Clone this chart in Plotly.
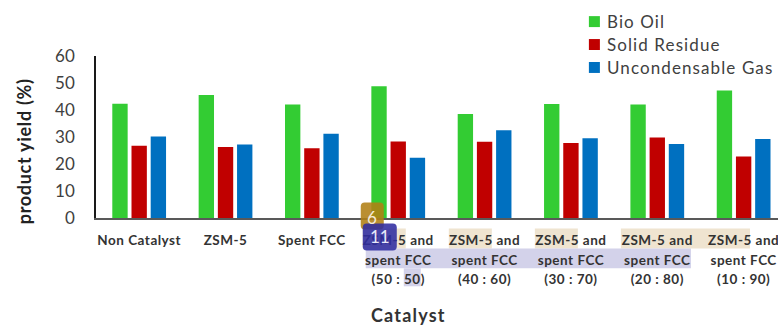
import plotly.graph_objects as go

# Product yields per catalyst
categories = ["Non Catalyst", "ZSM-5", "Spent FCC", "ZSM-5 and<br>spent FCC<br>(50 : 50)",
              "ZSM-5 and<br>spent FCC<br>(40 : 60)", "ZSM-5 and<br>spent FCC<br>(30 : 70)",
              "ZSM-5 and<br>spent FCC<br>(20 : 80)", "ZSM-5 and<br>spent FCC<br>(10 : 90)"]
bio_oil = [42.3, 45.6, 42.0, 48.8, 38.5, 42.2, 42.0, 47.2]
solid_residue = [26.8, 26.3, 25.8, 28.3, 28.2, 27.8, 29.8, 22.8]
uncondensable_gas = [30.2, 27.2, 31.2, 22.3, 32.5, 29.5, 27.4, 29.3]
series_names = ["Bio Oil", "Solid Residue", "Uncondensable Gas"]
series_colors = ["#33CC33", "#C00000", "#0070C0"]
y_ticks = [0, 10, 20, 30, 40, 50, 60]

W, H = 778, 327
L, T, BOTTOM = 96.4, 56.0, 218.5
FONT = "Lato, Carlito, Calibri, sans-serif"
INK = "#404040"


def px(x):
    return (x - L) / (W - L)


def py(y):
    return (BOTTOM - y) / (BOTTOM - T)


def spaced(text, size, spacing, bold=False):
    body = f"<b>{text}</b>" if bold else text
    return f'<span style="font-size:{size}px;letter-spacing:{spacing}px">{body}</span>'


def band(x0, y0, x1, y1, color):
    return dict(type="rect", xref="paper", yref="paper", layer="below", line_width=0,
                fillcolor=color, x0=px(x0), x1=px(x1), y0=py(y1), y1=py(y0))


def badge(x0, y0, x1, y1, color, r=4):
    a, b, c, d = px(x0), px(x1), py(y0), py(y1)
    rx, ry = r / (W - L), r / (BOTTOM - T)
    path = (f"M{a+rx},{c} L{b-rx},{c} Q{b},{c} {b},{c-ry} L{b},{d+ry} Q{b},{d} {b-rx},{d} "
            f"L{a+rx},{d} Q{a},{d} {a},{d+ry} L{a},{c-ry} Q{a},{c} {a+rx},{c} Z")
    return dict(type="path", xref="paper", yref="paper", layer="above", line_width=0,
                fillcolor=color, path=path)


def note(x, y, text, size, color, anchor="center", **kw):
    return dict(xref="paper", yref="paper", x=px(x), y=py(y), text=text,
                showarrow=False, font=dict(family=FONT, size=size, color=color),
                xanchor=anchor, yanchor="middle", **kw)


fig = go.Figure()
for name, values, color in zip(series_names, [bio_oil, solid_residue, uncondensable_gas], series_colors):
    fig.add_trace(go.Bar(name=name, x=list(range(len(categories))), y=values, marker_color=color,
                         marker_line_width=0, showlegend=False))

# Key drawn by hand so the swatches sit close to their labels
key_y = [21.5, 44.5, 67.5]
key_shapes = [dict(type="rect", xref="paper", yref="paper", layer="above", line_width=0, fillcolor=c,
                   x0=px(589), x1=px(600), y0=py(y + 5.5), y1=py(y - 5.5))
              for c, y in zip(series_colors, key_y)]
key_labels = [note(605, y, spaced(n, 17, 1.1), 17, INK, anchor="left")
              for n, y in zip(series_names, key_y)]

fig.update_layout(
    width=W, height=H, autosize=False,
    margin=dict(l=L, r=0, t=T, b=H - BOTTOM, pad=0),
    paper_bgcolor="white", plot_bgcolor="rgba(0,0,0,0)",
    barmode="group", bargap=0.333, bargroupgap=0.2,
    font=dict(family=FONT, color=INK),
    xaxis=dict(range=[-0.5, (W - L) / 86.3 - 0.5], tickmode="array",
               tickvals=list(range(len(categories))),
               ticktext=["<br>".join(spaced(line, 13.5, 0.5, bold=True) for line in c.split("<br>"))
                         for c in categories],
               tickfont=dict(family=FONT, size=15, color="#333333"), tickangle=0,
               ticklabeloverflow="allow",
               showgrid=False, zeroline=False, showline=True, linecolor="#595959", linewidth=2,
               ticks="", ticklabelstandoff=7),
    yaxis=dict(range=[0, 60], tickmode="array", tickvals=y_ticks,
               tickfont=dict(family=FONT, size=17, color=INK),
               showgrid=False, zeroline=False, showline=True, linecolor="#1a1a1a", linewidth=1.5,
               ticks="", ticklabelstandoff=16),
    shapes=[
        band(363, 229, 406, 249, "#EFE4D0"),
        band(449, 229, 492, 249, "#EFE4D0"),
        band(535, 229, 578, 249, "#EFE4D0"),
        band(621, 229, 750, 249, "#EFE4D0"),
        band(366, 249, 691, 269, "#D3D2EA"),
        band(404, 269, 421, 287, "#D3D2EA"),
        badge(361, 203, 384, 230, "rgba(176,128,20,0.88)"),
        badge(363, 224, 397, 251, "rgba(48,44,160,0.88)"),
    ] + key_shapes,
    annotations=[
        note(409, 316, spaced("Catalyst", 18, 1.2, bold=True), 18, "#333333"),
        note(24, 152, spaced("product yield (%)", 18, 0.7, bold=True), 18, "#222222", textangle=-90),
        note(372, 218, "6", 17, "#F4EBD6"),
        note(380, 237, "11", 17, "#E8E8F8"),
    ] + key_labels,
)

fig.write_html("out.html", config=dict(displayModeBar=False))
